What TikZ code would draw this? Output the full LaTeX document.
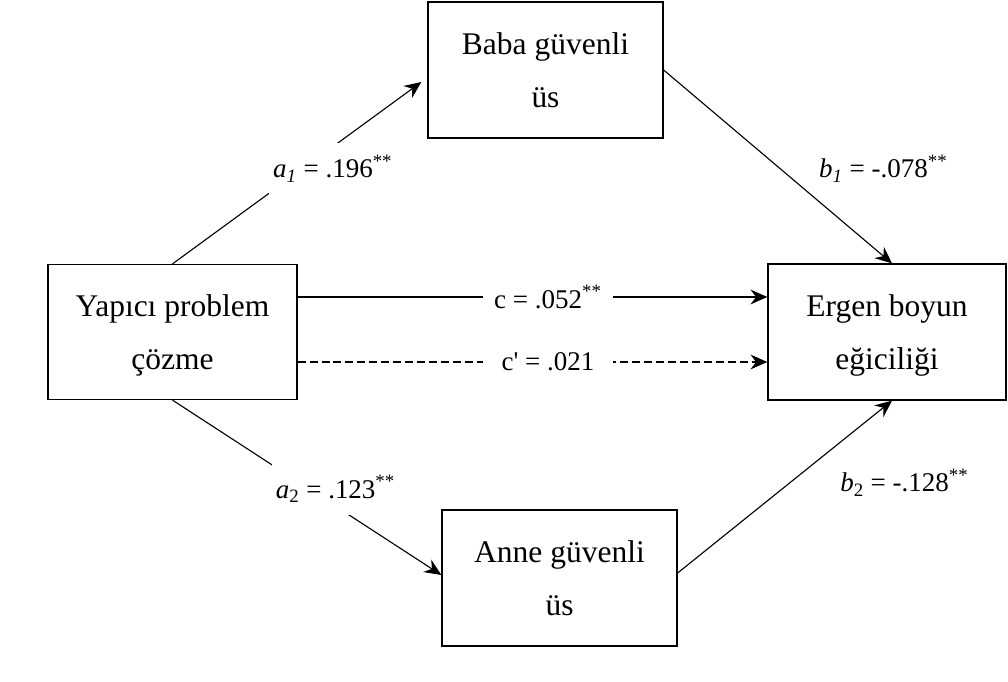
\documentclass[tikz,border=0pt]{standalone}
\usepackage{fontspec}
\setmainfont{Liberation Serif}
\usetikzlibrary{arrows.meta,positioning}

\begin{document}
\begin{tikzpicture}[->,>={Stealth[length=12pt,width=10.5pt,inset=4pt]},line width=0.8pt,on grid,
  var node/.style={rectangle,draw,line width=0.9pt,minimum width=5.875cm,minimum height=3.4cm,align=center,text depth=0pt,font=\fontsize{22.4}{37.7}\selectfont},
  coef/.style={fill=white,font=\fontsize{19.2}{23}\selectfont,inner xsep=0.1cm,inner ysep=0.3cm}]
  \useasboundingbox (-4.3125,-8.725) rectangle (20.8875,8.3);
  \node[var node,minimum width=6.225cm,minimum height=3.375cm] (yapici) {Yapıcı problem\\çözme};
  \node[var node,minimum width=5.95cm] (ergen) [right=17.8625cm of yapici] {Ergen boyun\\eğiciliği};
  \node[var node] (baba) [above right=6.55cm and 9.325cm of yapici] {Baba güvenli\\üs};
  \node[var node] (anne) [below right=6.15cm and 9.675cm of yapici] {Anne güvenli\\üs};
  \draw (yapici.north) -- node[coef,pos=0.525,xshift=0.74cm] {\textit{a}\textsubscript{\textit{1}} = .196\textsuperscript{**}} ([xshift=-0.15cm,yshift=-0.3cm]baba.west);
  \draw (baba.east) -- node[coef,pos=0.51,xshift=2.58cm] {\textit{b}\textsubscript{\textit{1}} = -.078\textsuperscript{**}} ([xshift=0.125cm]ergen.north);
  \draw ([yshift=0.875cm]yapici.east) -- node[coef,pos=0.533,minimum width=3.25cm,inner ysep=0pt] {c = .052\textsuperscript{**}} ([yshift=0.875cm]ergen.west);
  \draw[dash pattern=on 5.7pt off 2.8pt] ([yshift=-0.75cm]yapici.east) -- node[coef,pos=0.533,minimum width=3.25cm,inner ysep=0pt] {c\textquotesingle{} = .021} ([yshift=-0.75cm]ergen.west);
  \draw (yapici.south) -- node[coef,pos=0.508,xshift=0.66cm] {\textit{a}\textsubscript{2} = .123\textsuperscript{**}} ([yshift=0.075cm]anne.west);
  \draw ([yshift=0.125cm]anne.east) -- node[coef,pos=0.526,xshift=2.85cm] {\textit{b}\textsubscript{2} = -.128\textsuperscript{**}} ([xshift=0.125cm]ergen.south);
\end{tikzpicture}
\end{document}
